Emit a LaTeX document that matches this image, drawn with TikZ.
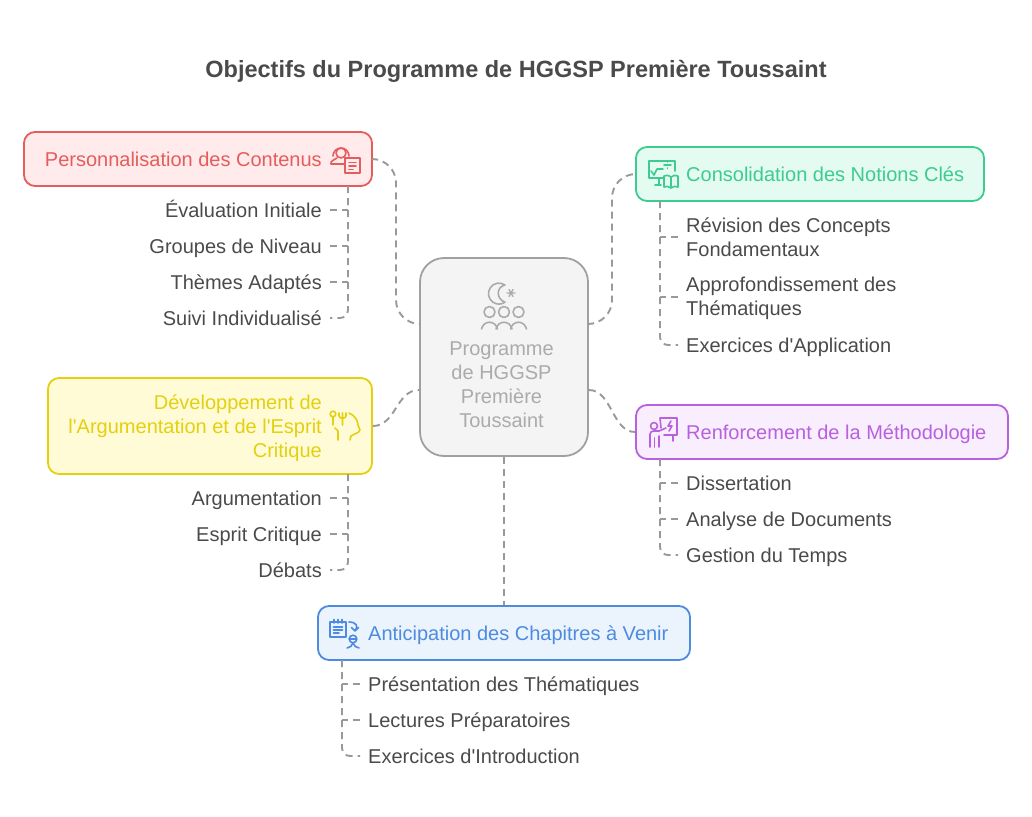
\documentclass[tikz,border=0pt]{standalone}
\usepackage{fontspec}
\setmainfont{Liberation Sans}
\definecolor{inktext}{HTML}{4A4A4A}
\definecolor{linkgray}{HTML}{999999}
\definecolor{redline}{HTML}{E65C5C}
\definecolor{redfill}{HTML}{FFEBEB}
\definecolor{greenline}{HTML}{3DCB90}
\definecolor{greenfill}{HTML}{E4FBF1}
\definecolor{yellowline}{HTML}{E4D00F}
\definecolor{yellowfill}{HTML}{FFFBD6}
\definecolor{purpleline}{HTML}{B860E0}
\definecolor{purplefill}{HTML}{F8EEFD}
\definecolor{blueline}{HTML}{4D8BE0}
\definecolor{bluefill}{HTML}{EBF3FD}
\definecolor{hubline}{HTML}{A0A0A0}
\definecolor{hubfill}{HTML}{F4F4F4}
\definecolor{hubtext}{HTML}{ABABAB}
\newcommand{\itemstrut}{\rule[-4.7pt]{0pt}{24pt}}
\tikzset{
  link/.style={draw=linkgray,line width=1.9pt,dash pattern=on 7pt off 5pt},
  box/.style={draw=#1line,fill=#1fill,line width=1.8pt,rounded corners=11pt,minimum height=54pt,inner sep=0pt},
  boxtext/.style={text=#1line,font=\fontsize{20}{24}\selectfont,inner xsep=0pt,inner ysep=0pt,
    execute at begin node=\itemstrut,execute at end node=\itemstrut},
  item/.style={text=inktext,font=\fontsize{20}{24}\selectfont,inner xsep=8pt,inner ysep=0pt,
    execute at begin node=\itemstrut,execute at end node=\itemstrut},
  icon/.style={draw=#1,line width=1.6pt,line cap=round,line join=round},
}
\begin{document}
\begin{tikzpicture}[x=1pt,y=-1pt]
  \useasboundingbox (0,0) rectangle (1032,816);
  \node (title) at (516,71) [text=inktext,font=\fontsize{23.5}{28}\selectfont\bfseries] {Objectifs du Programme de HGGSP Première Toussaint};

  % boxes
  \node (hub) at (504,357) [draw=hubline,fill=hubfill,line width=1.8pt,rounded corners=24pt,minimum width=168pt,minimum height=198pt] {};
  \node (redbox) at (198,159) [box=red,minimum width=348pt] {};
  \node (greenbox) at (810,174) [box=green,minimum width=348pt] {};
  \node (yellowbox) at (210,426) [box=yellow,minimum width=324pt,minimum height=96pt] {};
  \node (purplebox) at (822,432) [box=purple,minimum width=372pt] {};
  \node (bluebox) at (504,633) [box=blue,minimum width=372pt] {};

  \node (hubtext) at (501.5,385) [align=center,text=hubtext,font=\fontsize{20}{24}\selectfont,inner sep=0pt] {Programme\\de HGGSP\\Première\\Toussaint};

  \node (redlabel) at (322,159) [boxtext=red,anchor=east] {Personnalisation des Contenus};
  \node (greenlabel) at (686,174) [boxtext=green,anchor=west] {Consolidation des Notions Clés};
  \node (yellowlabel) at (322,428) [boxtext=yellow,anchor=east,align=right] {Développement de\\l\textquotesingle Argumentation et de l\textquotesingle Esprit\\Critique};
  \node (purplelabel) at (686,432) [boxtext=purple,anchor=west] {Renforcement de la Méthodologie};
  \node (bluelabel) at (368,633) [boxtext=blue,anchor=west] {Anticipation des Chapitres à Venir};

  % items
  \node (evaluation) at (330,210) [item,anchor=east] {Évaluation Initiale};
  \node (groupes) at (330,246) [item,anchor=east] {Groupes de Niveau};
  \node (themes) at (330,282) [item,anchor=east] {Thèmes Adaptés};
  \node (suivi) at (330,318) [item,anchor=east] {Suivi Individualisé};

  \node (revision) at (678,239) [item,anchor=west,align=left] {Révision des Concepts\\Fondamentaux};
  \node (approfondi) at (678,299) [item,anchor=west,align=left] {Approfondissement des\\Thématiques};
  \node (application) at (678,345) [item,anchor=west] {Exercices d\textquotesingle Application};

  \node (argumentation) at (330,498) [item,anchor=east] {Argumentation};
  \node (esprit) at (330,534) [item,anchor=east] {Esprit Critique};
  \node (debats) at (330,570) [item,anchor=east] {Débats};

  \node (dissertation) at (678,483) [item,anchor=west] {Dissertation};
  \node (analyse) at (678,519) [item,anchor=west] {Analyse de Documents};
  \node (gestion) at (678,555) [item,anchor=west] {Gestion du Temps};

  \node (presentation) at (360,684) [item,anchor=west] {Présentation des Thématiques};
  \node (lectures) at (360,720) [item,anchor=west] {Lectures Préparatoires};
  \node (introduction) at (360,756) [item,anchor=west] {Exercices d\textquotesingle Introduction};

  % trunks
  \coordinate (redtrunk) at (348,186);
  \coordinate (greentrunk) at (660,201);
  \coordinate (yellowtrunk) at (348,474);
  \coordinate (purpletrunk) at (660,459);
  \coordinate (bluetrunk) at (342,660);

  % hub links
  \draw[link,rounded corners=24pt] (redbox.east) -| (396,240) |- ([yshift=33pt]hub.west);
  \draw[link,rounded corners=24pt] ([yshift=33pt]hub.east) -| (612,240) |- (greenbox.west);
  \draw[link] (yellowbox.east) .. controls (396,426) and (396,390) .. ([yshift=-33pt]hub.west);
  \draw[link] ([yshift=-33pt]hub.east) .. controls (612,390) and (612,432) .. (purplebox.west);
  \draw[link] (hub.south) -- (bluebox.north);

  % item links
  \foreach \itemname in {evaluation,groupes,themes}
    \draw[link] (\itemname.east) -- (\itemname.east -| redtrunk);
  \draw[link,rounded corners=8pt] (redtrunk) |- (suivi.east);

  \foreach \itemname in {revision,approfondi}
    \draw[link] ([yshift=2pt]\itemname.west) -- ([yshift=2pt]\itemname.west -| greentrunk);
  \draw[link,rounded corners=8pt] (greentrunk) |- (application.west);

  \foreach \itemname in {argumentation,esprit}
    \draw[link] (\itemname.east) -- (\itemname.east -| yellowtrunk);
  \draw[link,rounded corners=8pt] (yellowtrunk) |- (debats.east);

  \foreach \itemname in {dissertation,analyse}
    \draw[link] (\itemname.west) -- (\itemname.west -| purpletrunk);
  \draw[link,rounded corners=8pt] (purpletrunk) |- (gestion.west);

  \foreach \itemname in {presentation,lectures}
    \draw[link] (\itemname.west) -- (\itemname.west -| bluetrunk);
  \draw[link,rounded corners=8pt] (bluetrunk) |- (introduction.west);

  % hub icon
  \draw[icon=hubtext] (505,285) arc[start angle=55,end angle=305,radius=10.5pt]
    .. controls (496,299) and (496,287) .. (505,285);
  \draw[icon=hubtext,line width=1.3pt] (507,293) -- (515,293) (509,289.5) -- (513,296.5) (513,289.5) -- (509,296.5);
  \foreach \x in {489.5,504,518.5} {
    \draw[icon=hubtext] (\x,312) circle[radius=5.5pt];
    \draw[icon=hubtext] (\x-8,329) .. controls (\x-6,320) and (\x+6,320) .. (\x+8,329);
  }

  % red icon
  \draw[icon=redline] (341,153) circle[radius=5pt];
  \draw[icon=redline] (333,156) arc[start angle=180,end angle=0,radius=8pt];
  \draw[icon=redline] (344,164) -- (331,164) .. controls (330,161) and (334,160) .. (337,158);
  \draw[icon=redline,fill=redfill] (345,158) rectangle (360,173);
  \draw[icon=redline] (349,162.5) -- (356,162.5) (349,166) -- (356,166) (349,169.5) -- (353,169.5);

  % green icon
  \draw[icon=greenline] (664,178) -- (649,178) -- (649,161) -- (675,161) -- (675,171);
  \draw[icon=greenline] (651,171) -- (654,175) -- (657,169) -- (663,169);
  \draw[icon=greenline] (664,165) -- (671,165) (667.5,161.5) -- (667.5,162) (667.5,168) -- (667.5,168.5);
  \draw[icon=greenline] (659,178) -- (659,185) (655,185) -- (661,185);
  \draw[icon=greenline] (671,177) .. controls (668,175) and (666,175) .. (664,176) -- (664,187) .. controls (666,186) and (669,186) .. (671,188) .. controls (673,186) and (676,186) .. (678,187) -- (678,176) .. controls (676,175) and (673,175) .. (671,177) -- (671,188);

  % yellow icon
  \draw[icon=yellowline] (333,414) circle[radius=2.8pt];
  \draw[icon=yellowline] (333,417) -- (333,425);
  \draw[icon=yellowline] (339,413) -- (339,416) .. controls (339,419) and (346,419) .. (346,416) -- (346,413) (342.5,413) -- (342.5,425);
  \draw[icon=yellowline] (349,413) .. controls (354,415) and (358,420) .. (358,425) -- (360,430) .. controls (359,433) and (354,434) .. (351,436) -- (350,440);
  \draw[icon=yellowline] (335,428) -- (338,431) -- (338,440);

  % purple icon
  \draw[icon=purpleline] (654,426) circle[radius=3.5pt];
  \draw[icon=purpleline] (650,447) -- (650,434) .. controls (650,432) and (652,431) .. (654,431) -- (659,431) -- (666,428);
  \draw[icon=purpleline] (659,447) -- (659,436) (654.5,447) -- (654.5,438);
  \draw[icon=purpleline] (661,428) -- (660,418) -- (677,418) -- (677,435) -- (664,435);
  \draw[icon=purpleline] (673,435) -- (673,441);
  \draw[icon=purpleline] (671,421) -- (668,426) -- (672,426) -- (669,431);

  % blue icon
  \draw[icon=blueline] (330,622) rectangle (346,637);
  \draw[icon=blueline] (334,619.5) -- (334,623) (338,619.5) -- (338,623) (342,619.5) -- (342,623);
  \draw[icon=blueline] (333.5,627) -- (342.5,627) (333.5,630) -- (342.5,630) (333.5,633) -- (339,633);
  \draw[icon=blueline] (349,622) .. controls (356,622) and (359,626) .. (355,631) (351.5,627.5) -- (355,631) -- (358.5,627.5);
  \draw[icon=blueline] (353,639) circle[radius=3.8pt];
  \draw[icon=blueline] (349.5,639) -- (356.5,639);
  \draw[icon=blueline] (347,648) .. controls (350,647.5) and (352,646) .. (353,643) .. controls (354,646) and (356,647.5) .. (359,648);
\end{tikzpicture}
\end{document}
